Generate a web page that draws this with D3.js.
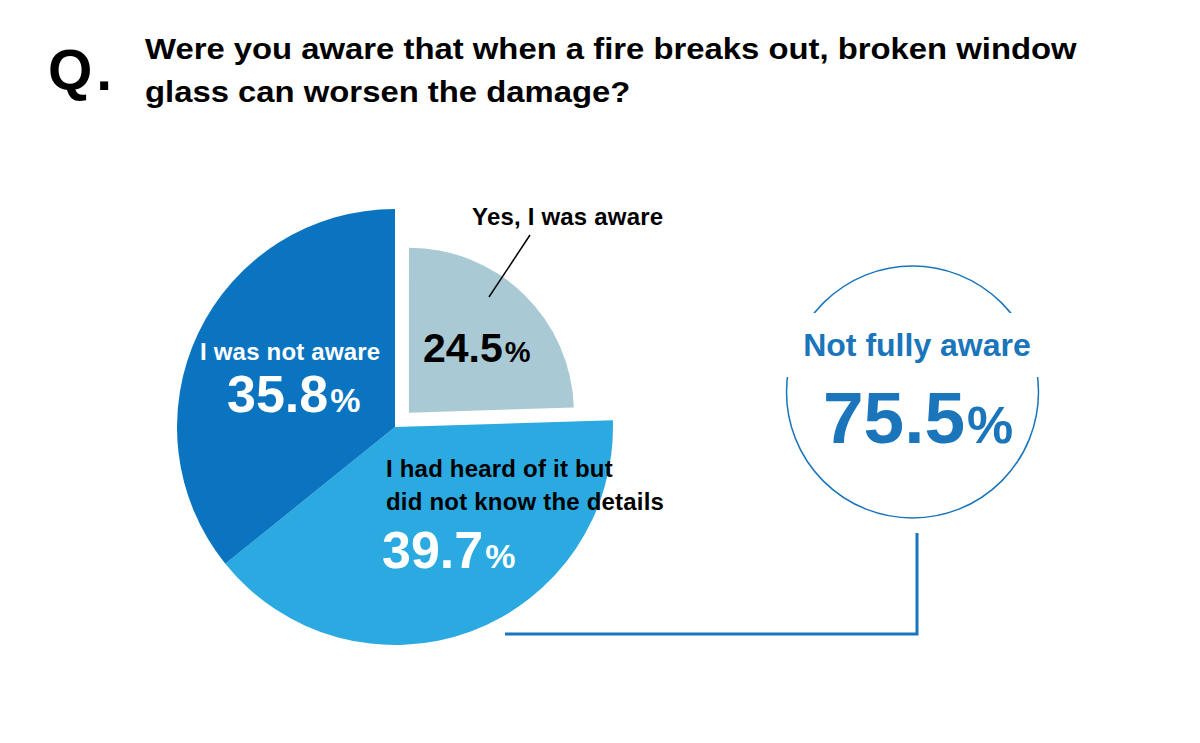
<!DOCTYPE html>
<html>
<head>
<meta charset="utf-8">
<script src="https://cdn.jsdelivr.net/npm/d3@7"></script>
<style>
  html, body { margin: 0; padding: 0; background: #ffffff; }
  svg { display: block; }
  text { font-family: "Liberation Sans", Arial, Helvetica, sans-serif; }
</style>
</head>
<body>
<svg id="chart" width="1200" height="743"></svg>
<script>
// ---- data ----
const categories = ["Yes, I was aware", "I had heard of it but did not know the details", "I was not aware"];
const labelLines = [["Yes, I was aware"], ["I had heard of it but", "did not know the details"], ["I was not aware"]];
const values = [24.5, 39.7, 35.8];
const colors = ["#a9cad5", "#2aaae1", "#0a74c0"];
const summaryLabel = "Not fully aware";
const summaryValue = 75.5;
const titleQ = "Q.";
const titleLines = ["Were you aware that when a fire breaks out, broken window", "glass can worsen the damage?"];

const svg = d3.select("#chart");
const W = 1200, H = 743;
svg.append("rect").attr("width", W).attr("height", H).attr("fill", "#fff");

// ---- title ----
svg.append("text").attr("x", 48).attr("y", 90)
  .attr("font-size", 57).attr("font-weight", 700).attr("letter-spacing", 4).attr("fill", "#000")
  .text(titleQ);
const tt = svg.append("text").attr("font-size", 30).attr("font-weight", 700)
  .attr("transform", "translate(145,0) scale(1.095,1)").attr("fill", "#000");
titleLines.forEach((l, i) => {
  tt.append("tspan").attr("x", 0).attr("y", 59 + i * 43).text(l);
});

// ---- pie ----
const cx = 395, cy = 427, R = 218, Ryes = 165, explode = 20;
const pie = d3.pie().sort(null).value(d => d)(values);
const g = svg.append("g").attr("transform", `translate(${cx},${cy})`);
const arcMain = d3.arc().innerRadius(0).outerRadius(R);
const arcYes = d3.arc().innerRadius(0).outerRadius(Ryes);

pie.forEach((p, i) => {
  if (i === 0) {
    const mid = (p.startAngle + p.endAngle) / 2;
    const dx = Math.sin(mid) * explode, dy = -Math.cos(mid) * explode;
    g.append("path").attr("d", arcYes(p)).attr("fill", colors[i])
      .attr("transform", `translate(${dx},${dy})`);
  } else {
    g.append("path").attr("d", arcMain(p)).attr("fill", colors[i]);
  }
});

// helper for number + % label
function pct(x, y, v, bigSize, smallSize, fill) {
  const t = svg.append("text").attr("x", x).attr("y", y).attr("fill", fill).attr("font-weight", 700);
  t.append("tspan").attr("font-size", bigSize).text(v.toFixed(1));
  t.append("tspan").attr("font-size", smallSize).attr("dx", 2).text("%");
  return t;
}

// Yes label + leader
svg.append("line").attr("x1", 530).attr("y1", 235).attr("x2", 489).attr("y2", 297)
  .attr("stroke", "#000").attr("stroke-width", 1.5);
svg.append("text").attr("x", 472).attr("y", 225).attr("font-size", 24).attr("font-weight", 700)
  .attr("letter-spacing", 0.2).attr("fill", "#000").text(labelLines[0][0]);
pct(423, 362, values[0], 41, 29, "#000");

// Heard label
const hl = svg.append("text").attr("font-size", 24).attr("font-weight", 700)
  .attr("letter-spacing", 0.2).attr("fill", "#000");
labelLines[1].forEach((l, i) => hl.append("tspan").attr("x", 386).attr("y", 477 + i * 33).text(l));
pct(382, 568, values[1], 52, 34, "#fff");

// Not aware label
svg.append("text").attr("x", 200).attr("y", 360).attr("font-size", 24).attr("font-weight", 700)
  .attr("letter-spacing", 0.2).attr("fill", "#fff").text(labelLines[2][0]);
pct(227, 412, values[2], 52, 34, "#fff");

// ---- summary circle ----
const scx = 912.5, scy = 392, sr = 126, blue = "#1a75bb";
svg.append("circle").attr("cx", scx).attr("cy", scy).attr("r", sr)
  .attr("fill", "none").attr("stroke", blue).attr("stroke-width", 1.5);
svg.append("rect").attr("x", scx - sr - 5).attr("y", 313).attr("width", 2 * sr + 10).attr("height", 64).attr("fill", "#fff");
svg.append("text").attr("x", 917).attr("y", 356).attr("text-anchor", "middle")
  .attr("font-size", 32).attr("font-weight", 700).attr("fill", blue).text(summaryLabel);
pct(823, 443, summaryValue, 73, 52, blue);

// connector
svg.append("path").attr("d", `M917,533 V634 H505`).attr("fill", "none")
  .attr("stroke", blue).attr("stroke-width", 3);
</script>
</body>
</html>
